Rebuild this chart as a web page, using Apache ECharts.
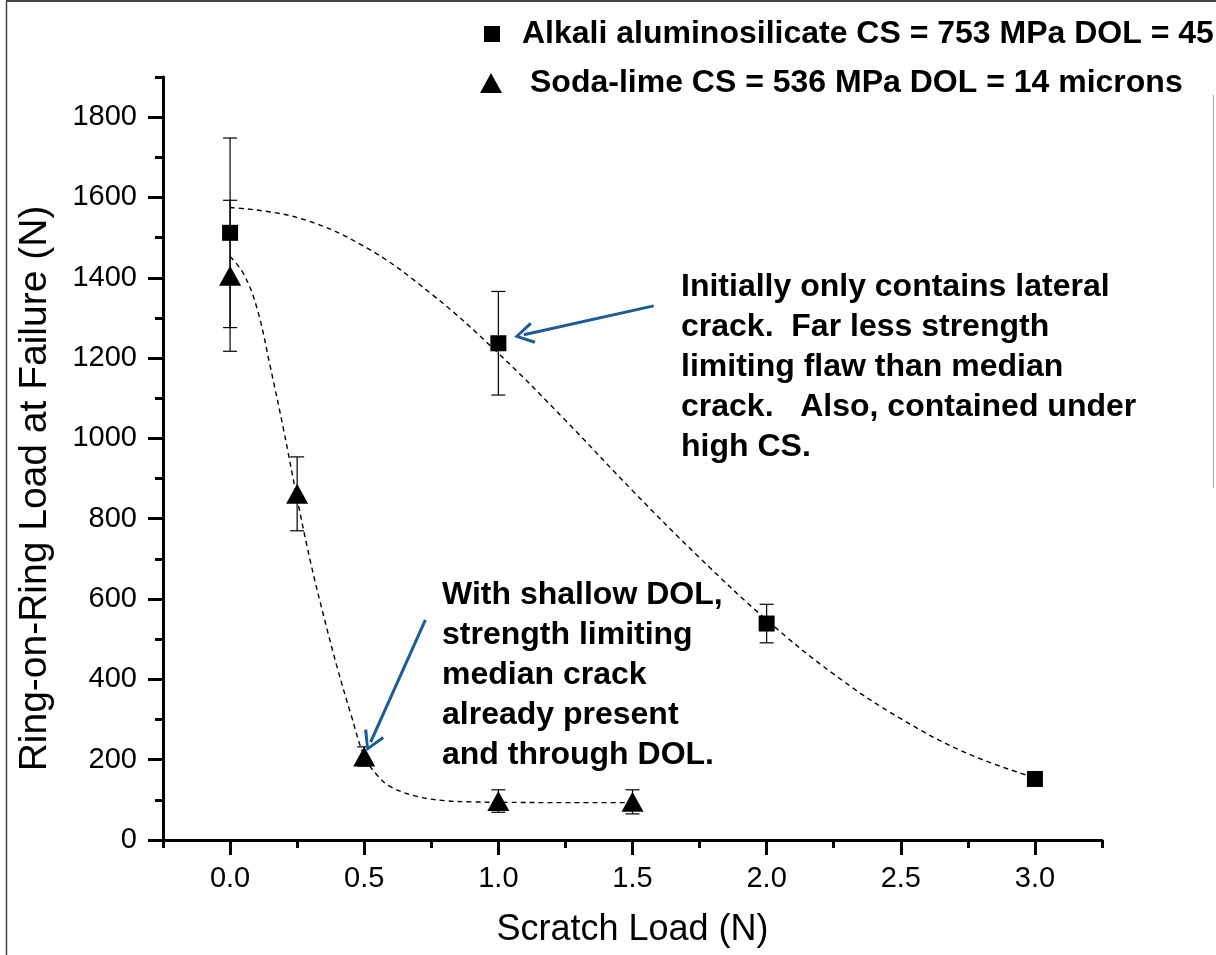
<!DOCTYPE html>
<html>
<head>
<meta charset="utf-8">
<title>Ring-on-Ring Load vs Scratch Load</title>
<script src="https://cdn.jsdelivr.net/npm/echarts@6/dist/echarts.min.js"></script>
<style>
html, body { margin: 0; padding: 0; background: #fff; }
#chart { width: 1216px; height: 955px; }
</style>
</head>
<body>
<div id="chart"></div>
<script>
const alkaliX = [0, 1, 2, 3];
const alkaliY = [1512, 1237, 539, 152];
const alkaliErr = [236, 129, 48, 0];

const sodaX = [0, 0.25, 0.5, 1, 1.5];
const sodaY = [1405, 862, 208, 97, 95];
const sodaErr = [188, 92, 24, 28, 30];

// dashed guide curves
const alkaliFitX = [0, 0.25, 0.5, 0.75, 1, 1.25, 1.5, 1.75, 2, 2.25, 2.5, 2.75, 3];
const alkaliFitY = [1575, 1550, 1478, 1360, 1212, 1045, 870, 703, 548, 413, 302, 215, 155];
const sodaFitX = [0, 0.05, 0.1, 0.15, 0.2, 0.25, 0.3, 0.35, 0.4, 0.45, 0.5, 0.55, 0.6, 0.7, 0.8, 0.9, 1, 1.25, 1.5];
const sodaFitY = [1453, 1410, 1325, 1178, 1020, 850, 692, 555, 428, 314, 210, 160, 132, 108, 98, 95, 94, 93, 93];

// ticks
const xMajor = [0, 0.5, 1, 1.5, 2, 2.5, 3];
const xMinor = [-0.25, 0.25, 0.75, 1.25, 1.75, 2.25, 2.75, 3.25];
const yMajor = [0, 200, 400, 600, 800, 1000, 1200, 1400, 1600, 1800];
const yMinor = [100, 300, 500, 700, 900, 1100, 1300, 1500, 1700, 1900];

const alkaliName = 'Alkali aluminosilicate CS = 753 MPa DOL = 45';
const sodaName = 'Soda-lime CS = 536 MPa DOL = 14 microns';

const noteLateral = 'Initially only contains lateral\ncrack.  Far less strength\nlimiting flaw than median\ncrack.   Also, contained under\nhigh CS.';
const noteMedian = 'With shallow DOL,\nstrength limiting\nmedian crack\nalready present\nand through DOL.';

const FONT = '"Liberation Sans", Arial, Helvetica, sans-serif';
const arrowHead = 'path://M10,0 L20,17 L17.5,18.5 L10,5 L2.5,18.5 L0,17 Z';
const arrowBlue = '#1b5b98';

const zip = (xs, ys) => xs.map((x, i) => [x, ys[i]]);
const errRows = (xs, ys, es) => xs.map((x, i) => [x, ys[i] - es[i], ys[i] + es[i]]).filter((r, i) => es[i] > 0);

function errorBarItem(params, api) {
  const x = api.value(0);
  const bot = api.coord([x, api.value(1)]);
  const top = api.coord([x, api.value(2)]);
  const half = 7;
  const style = { stroke: '#000', lineWidth: 1.2, fill: null };
  return {
    type: 'group',
    children: [
      { type: 'line', shape: { x1: top[0], y1: top[1], x2: bot[0], y2: bot[1] }, style },
      { type: 'line', shape: { x1: top[0] - half, y1: top[1], x2: top[0] + half, y2: top[1] }, style },
      { type: 'line', shape: { x1: bot[0] - half, y1: bot[1], x2: bot[0] + half, y2: bot[1] }, style }
    ]
  };
}

const chart = echarts.init(document.getElementById('chart'), null, { renderer: 'canvas' });

const legendText = {
  fontFamily: FONT, fontWeight: 'bold', fontSize: 32, color: '#000'
};

const option = {
  backgroundColor: '#fff',
  animation: false,
  textStyle: { fontFamily: FONT },
  grid: { left: 163, right: 114, top: 77, bottom: 115, containLabel: false },
  legend: [
    {
      data: [{ name: alkaliName, icon: 'rect' }],
      left: 484, top: 18, padding: 0, itemWidth: 16, itemHeight: 16,
      selectedMode: false,
      textStyle: Object.assign({ padding: [0, 0, 0, 17] }, legendText)
    },
    {
      data: [{ name: sodaName, icon: 'triangle' }],
      left: 480, top: 67, padding: 0, itemWidth: 22, itemHeight: 20,
      selectedMode: false,
      textStyle: Object.assign({ padding: [0, 0, 0, 23] }, legendText)
    }
  ],
  xAxis: [
    {
      type: 'value', min: -0.25, max: 3.25,
      name: 'Scratch Load (N)', nameLocation: 'middle', nameGap: 72,
      nameTextStyle: { fontFamily: FONT, fontSize: 36, color: '#000' },
      axisLine: { show: true, onZero: false, lineStyle: { color: '#000', width: 3 } },
      axisTick: { show: true, customValues: xMajor, length: 15, lineStyle: { color: '#000', width: 3 } },
      axisLabel: {
        show: true, customValues: xMajor, margin: 24,
        fontFamily: FONT, fontSize: 29, color: '#000',
        formatter: v => v.toFixed(1)
      },
      splitLine: { show: false }
    },
    {
      type: 'value', min: -0.25, max: 3.25, position: 'bottom',
      axisLine: { show: false, onZero: false },
      axisTick: { show: true, customValues: xMinor, length: 8, lineStyle: { color: '#000', width: 3 } },
      axisLabel: { show: false, customValues: xMinor },
      splitLine: { show: false }
    }
  ],
  yAxis: [
    {
      type: 'value', min: 0, max: 1900,
      name: 'Ring-on-Ring Load at Failure (N)', nameLocation: 'middle', nameGap: 108,
      nameTextStyle: { fontFamily: FONT, fontSize: 39, color: '#000', padding: [0, 60, 0, 0] },
      axisLine: { show: true, onZero: false, lineStyle: { color: '#000', width: 3 } },
      axisTick: { show: true, customValues: yMajor, length: 15, lineStyle: { color: '#000', width: 3 } },
      axisLabel: {
        show: true, customValues: yMajor, margin: 26,
        fontFamily: FONT, fontSize: 29, color: '#000',
        formatter: v => String(v)
      },
      splitLine: { show: false }
    },
    {
      type: 'value', min: 0, max: 1900, position: 'left',
      axisLine: { show: false, onZero: false },
      axisTick: { show: true, customValues: yMinor, length: 8, lineStyle: { color: '#000', width: 3 } },
      axisLabel: { show: false, customValues: yMinor },
      splitLine: { show: false }
    }
  ],
  series: [
    {
      name: 'alkali fit', type: 'line', data: zip(alkaliFitX, alkaliFitY),
      smooth: 0.4, showSymbol: false, silent: true, z: 1,
      lineStyle: { color: '#000', width: 1.4, type: [5, 4] }
    },
    {
      name: 'soda fit', type: 'line', data: zip(sodaFitX, sodaFitY),
      smooth: 0.4, showSymbol: false, silent: true, z: 1,
      lineStyle: { color: '#000', width: 1.4, type: [5, 4] }
    },
    {
      name: 'alkali err', type: 'custom', renderItem: errorBarItem,
      data: errRows(alkaliX, alkaliY, alkaliErr), encode: { x: 0, y: [1, 2] }, z: 2, silent: true
    },
    {
      name: 'soda err', type: 'custom', renderItem: errorBarItem,
      data: errRows(sodaX, sodaY, sodaErr), encode: { x: 0, y: [1, 2] }, z: 2, silent: true
    },
    {
      name: alkaliName, type: 'scatter', data: zip(alkaliX, alkaliY),
      symbol: 'rect', symbolSize: 16, z: 3,
      itemStyle: { color: '#000', opacity: 1 },
      markLine: {
        silent: true, animation: false,
        symbol: ['none', arrowHead], symbolSize: [22, 20],
        label: { show: false },
        lineStyle: { color: arrowBlue, width: 3, type: 'solid' },
        data: [[{ coord: [1.579, 1330] }, { coord: [1.095, 1258] }]]
      }
    },
    {
      name: sodaName, type: 'scatter', data: zip(sodaX, sodaY),
      symbol: 'triangle', symbolSize: [22, 20], z: 3,
      itemStyle: { color: '#000', opacity: 1 },
      markLine: {
        silent: true, animation: false,
        symbol: ['none', arrowHead], symbolSize: [22, 20],
        label: { show: false },
        lineStyle: { color: arrowBlue, width: 3, type: 'solid' },
        data: [[{ coord: [0.728, 548] }, { coord: [0.524, 244] }]]
      }
    }
  ],
  graphic: [
    { type: 'line', silent: true, shape: { x1: 6, y1: 1, x2: 1216, y2: 1 }, style: { stroke: '#444', lineWidth: 2 } },
    { type: 'line', silent: true, shape: { x1: 6.5, y1: 1, x2: 6.5, y2: 955 }, style: { stroke: '#444', lineWidth: 1.5 } },
    { type: 'line', silent: true, shape: { x1: 1213.5, y1: 95, x2: 1213.5, y2: 488 }, style: { stroke: '#aaa', lineWidth: 1 } },
    {
      type: 'text', left: 681, top: 267, silent: true,
      style: { text: noteLateral, font: 'bold 32px ' + FONT, lineHeight: 40, fill: '#000' }
    },
    {
      type: 'text', left: 442, top: 575, silent: true,
      style: { text: noteMedian, font: 'bold 32px ' + FONT, lineHeight: 40, fill: '#000' }
    }
  ]
};

chart.setOption(option);
</script>
</body>
</html>
